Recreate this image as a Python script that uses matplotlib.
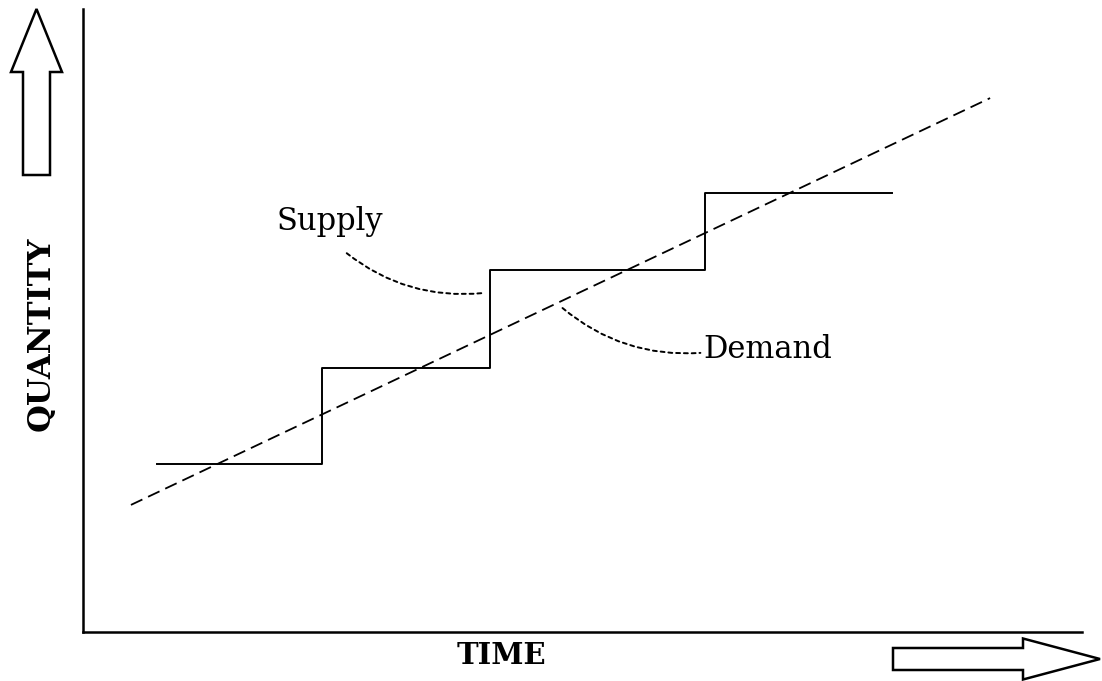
import numpy as np
import matplotlib.pyplot as plt
from matplotlib.patches import FancyArrow

#%% datos
# oferta escalonada (tiempo, cantidad)
oferta_t = [0.74, 2.39, 4.07, 6.23, 8.10]
oferta_q = [2.70, 4.24, 5.81, 7.05, 7.05]

# demanda lineal
demanda_t = [0.48, 9.08]
demanda_q = [2.04, 8.57]

# etiquetas y sus curvas
etiquetas = ['Supply', 'Demand']
etiqueta_pos = [(2.47, 6.45), (6.21, 4.40)]
curva_ini = [(2.64, 6.08), (4.80, 5.20)]
curva_fin = [(4.00, 5.44), (6.18, 4.48)]
curva_rad = [0.2, 0.2]

#%%
def main():
    fig = plt.figure(figsize=(11.02, 6.81), dpi=100)
    ax = fig.add_axes([83/1102, 49/681, 999/1102, 623/681])
    ax.set_xlim(0, 10)
    ax.set_ylim(0, 10)
    ax.set_xticks([])
    ax.set_yticks([])
    ax.spines['top'].set_visible(False)
    ax.spines['right'].set_visible(False)
    ax.spines['left'].set_linewidth(1.8)
    ax.spines['bottom'].set_linewidth(1.8)

    # oferta
    ax.step(oferta_t, oferta_q, where='post', c='black', lw=1.4)
    # demanda
    ax.plot(demanda_t, demanda_q, c='black', lw=1.3, linestyle=(0, (7, 3.5)))

    # etiquetas
    ax.text(*etiqueta_pos[0], etiquetas[0], ha='center', va='baseline',
            fontsize=22, family='DejaVu Serif')
    ax.text(*etiqueta_pos[1], etiquetas[1], ha='left', va='baseline',
            fontsize=22, family='DejaVu Serif')
    for ini, fin, rad in zip(curva_ini, curva_fin, curva_rad):
        ax.annotate('', xy=fin, xytext=ini,
                    arrowprops=dict(arrowstyle='-', color='black', lw=1.4,
                                    linestyle=(0, (2, 2)),
                                    shrinkA=0, shrinkB=0,
                                    connectionstyle=f'arc3,rad={rad}'))

    # titulos de ejes
    fig.text(41/1102, 1 - 334/681, 'QUANTITY', rotation=90, ha='center',
             va='center', fontsize=23, fontweight='bold', family='DejaVu Serif')
    fig.text(501/1102, 1 - 655/681, 'TIME', ha='center', va='center',
             fontsize=21, fontweight='bold', family='DejaVu Serif')

    # flechas (en pulgadas)
    flecha_up = FancyArrow(0.365, 5.06, 0, 1.66, width=0.27, head_width=0.51,
                           head_length=0.63, length_includes_head=True,
                           fc='white', ec='black', lw=1.8,
                           transform=fig.dpi_scale_trans)
    flecha_der = FancyArrow(8.93, 0.22, 2.07, 0, width=0.22, head_width=0.41,
                            head_length=0.77, length_includes_head=True,
                            fc='white', ec='black', lw=1.8,
                            transform=fig.dpi_scale_trans)
    fig.add_artist(flecha_up)
    fig.add_artist(flecha_der)

    fig.savefig('out.png', dpi=100)


if __name__ == '__main__':
    main()
